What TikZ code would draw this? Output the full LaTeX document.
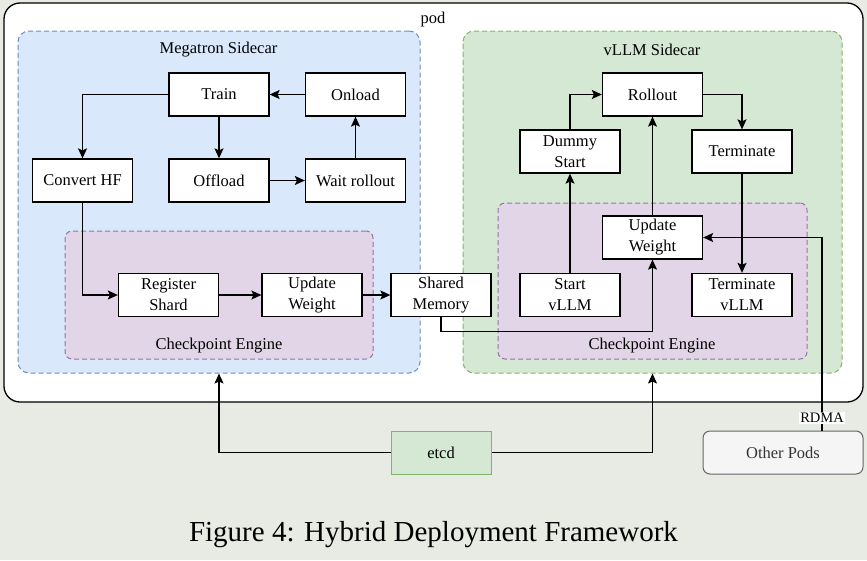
\documentclass[tikz,border=0pt]{standalone}
\usepackage{fontspec}
\setmainfont{Liberation Serif}
\usetikzlibrary{arrows.meta}
\definecolor{bgc}{RGB}{232,235,228}
\definecolor{megfill}{HTML}{DAE8FC}
\definecolor{megline}{HTML}{6C8EBF}
\definecolor{vfill}{HTML}{D5E8D4}
\definecolor{vline}{HTML}{82B366}
\definecolor{cefill}{HTML}{E1D5E7}
\definecolor{celine}{HTML}{9673A6}
\definecolor{opfill}{HTML}{F5F5F5}
\definecolor{opline}{HTML}{666666}
\definecolor{optext}{HTML}{333333}
\begin{document}
\begin{tikzpicture}[x=1pt,y=-1pt,
  font=\fontsize{16.5}{21}\selectfont,
  box/.style={draw, line width=1.3pt, fill=white, minimum width=100pt, minimum height=43pt, inner sep=1pt, align=center},
  grp/.style={line width=1pt, dash pattern=on 5pt off 3pt, inner sep=0pt},
  arr/.style={-{Stealth[length=10pt,width=9pt,inset=2pt]}, line width=1.3pt},
  lbl/.style={inner sep=0pt}]
\useasboundingbox[fill=bgc] (0,0) rectangle (867,560);
% containers
\node[draw=black, line width=1.3pt, fill=white, rounded corners=16pt, minimum width=859pt, minimum height=399pt, inner sep=0pt] (pod) at (433.5,202.5) {};
\node[lbl] (podl) at (433,20) {pod};
\node[grp, draw=megline, fill=megfill, rounded corners=11pt, minimum width=402pt, minimum height=342pt] (meg) at (219,202) {};
\node[grp, draw=vline, fill=vfill, rounded corners=11pt, minimum width=379pt, minimum height=342pt] (vll) at (652.5,202) {};
\node[lbl] (megl) at (218.5,50) {Megatron Sidecar};
\node[lbl] (vlll) at (652,50) {vLLM Sidecar};
\node[grp, draw=celine, fill=cefill, rounded corners=7pt, minimum width=308pt, minimum height=128pt] (ce1) at (219,295) {};
\node[grp, draw=celine, fill=cefill, rounded corners=7pt, minimum width=309pt, minimum height=156pt] (ce2) at (652.5,281) {};
\node[lbl] (ce1l) at (219,346) {Checkpoint Engine};
\node[lbl] (ce2l) at (652,346) {Checkpoint Engine};
% left nodes
\node[box] (train) at (219,94.5) {Train};
\node[box] (onload) at (355.5,94.5) {Onload};
\node[box] (conv) at (82.5,180.5) {Convert HF};
\node[box] (offl) at (219,180.5) {Offload};
\node[box] (wait) at (355.5,180.5) {Wait rollout};
\node[box] (reg) at (168.5,295) {Register\\Shard};
\node[box] (uw1) at (312,295) {Update\\Weight};
\node[box] (shm) at (441,295) {Shared\\Memory};
% right nodes
\node[box] (roll) at (652.5,94.5) {Rollout};
\node[box] (dummy) at (570,151.5) {Dummy\\Start};
\node[box] (term) at (742,151.5) {Terminate};
\node[box] (uw2) at (652.5,237.5) {Update\\Weight};
\node[box] (start) at (570,295) {Start\\vLLM};
\node[box] (termv) at (742,295) {Terminate\\vLLM};
% bottom nodes
\node[draw=vline, fill=vfill, line width=1pt, minimum width=100pt, minimum height=43pt] (etcd) at (441,452.5) {etcd};
\node[draw=opline, fill=opfill, line width=1pt, rounded corners=7pt, minimum width=160pt, minimum height=43pt, text=optext] (other) at (783,452.5) {Other Pods};
% connectors
\draw[arr] (onload) -- (train);
\draw[arr] (train) -- (offl);
\draw[arr] (train.west) -| (conv.north);
\draw[arr] (offl) -- (wait);
\draw[arr] (wait) -- (onload);
\draw[arr] (conv.south) |- (reg.west);
\draw[arr] (reg) -- (uw1);
\draw[arr] (uw1) -- (shm);
\draw[arr] (shm.south) -- ++(0,14) -| (uw2.south);
\draw[arr] (start) -- (dummy);
\draw[arr] (dummy.north) |- (roll.west);
\draw[arr] (roll.east) -| (term.north);
\draw[arr] (term) -- (termv);
\draw[arr] (uw2) -- (roll);
\draw[arr] ([xshift=39pt]other.north) |- (uw2.east);
\node[fill=white, inner sep=1.5pt, font=\fontsize{14.5}{16}\selectfont] (rdma) at (822,418) {RDMA};
\draw[arr] (etcd.west) -| (meg.south);
\draw[arr] (etcd.east) -| (vll.south);
% caption
\node[lbl, font=\fontsize{29}{32}\selectfont] (cap) at (433.5,535) {Figure 4: Hybrid Deployment Framework};
\end{tikzpicture}
\end{document}
